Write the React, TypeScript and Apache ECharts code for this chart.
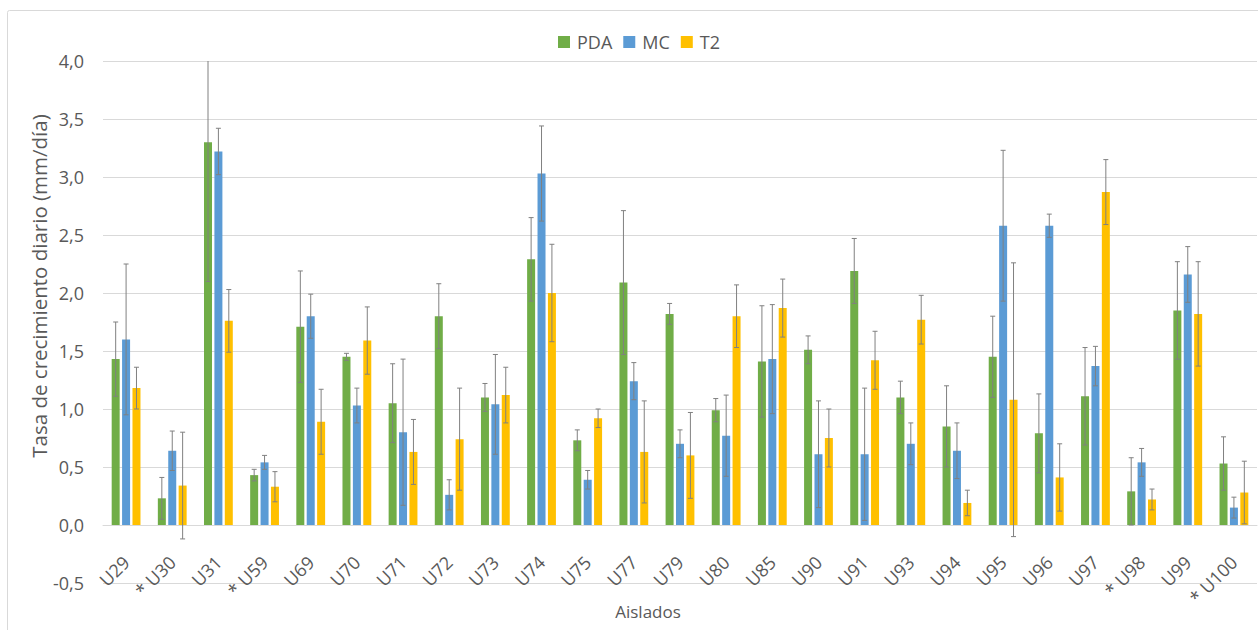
import React, { useEffect, useRef } from "react";
import * as echarts from "echarts";

const categories = ["U29", "* U30", "U31", "* U59", "U69", "U70", "U71", "U72", "U73", "U74", "U75", "U77", "U79", "U80", "U85", "U90", "U91", "U93", "U94", "U95", "U96", "U97", "* U98", "U99", "* U100"];
const seriesNames = ["PDA", "MC", "T2"];
const pda = [1.43, 0.23, 3.30, 0.43, 1.71, 1.45, 1.05, 1.80, 1.10, 2.29, 0.73, 2.09, 1.82, 0.99, 1.41, 1.51, 2.19, 1.10, 0.85, 1.45, 0.79, 1.11, 0.29, 1.85, 0.53];
const pdaErr = [0.32, 0.18, 1.20, 0.05, 0.48, 0.03, 0.34, 0.28, 0.12, 0.36, 0.09, 0.62, 0.09, 0.10, 0.48, 0.12, 0.28, 0.14, 0.35, 0.35, 0.34, 0.42, 0.29, 0.42, 0.23];
const mc = [1.60, 0.64, 3.22, 0.54, 1.80, 1.03, 0.80, 0.26, 1.04, 3.03, 0.39, 1.24, 0.70, 0.77, 1.43, 0.61, 0.61, 0.70, 0.64, 2.58, 2.58, 1.37, 0.54, 2.16, 0.15];
const mcErr = [0.65, 0.17, 0.20, 0.06, 0.19, 0.15, 0.63, 0.13, 0.43, 0.41, 0.08, 0.16, 0.12, 0.35, 0.47, 0.46, 0.57, 0.18, 0.24, 0.65, 0.10, 0.17, 0.12, 0.24, 0.09];
const t2 = [1.18, 0.34, 1.76, 0.33, 0.89, 1.59, 0.63, 0.74, 1.12, 2.00, 0.92, 0.63, 0.60, 1.80, 1.87, 0.75, 1.42, 1.77, 0.19, 1.08, 0.41, 2.87, 0.22, 1.82, 0.28];
const t2Err = [0.18, 0.46, 0.27, 0.13, 0.28, 0.29, 0.28, 0.44, 0.24, 0.42, 0.08, 0.44, 0.37, 0.27, 0.25, 0.25, 0.25, 0.21, 0.11, 1.18, 0.29, 0.28, 0.09, 0.45, 0.27];

const Y_MIN = -0.5;
const Y_MAX = 4.0;
const Y_STEP = 0.5;

const colors = ["#70AD47", "#5B9BD5", "#FFC000"];
const FONT = "'Open Sans', 'Noto Sans', sans-serif";
const BAR_W = 8;
const BAR_GAP = 0.3;
const GRID_TOP = 61;
const GRID_BOTTOM = 47;
const GRID_H = 630 - GRID_TOP - GRID_BOTTOM;
// distance (px) from the grid's bottom edge up to the value 0
const ZERO_OFFSET = (GRID_H * (0 - Y_MIN)) / (Y_MAX - Y_MIN);

function errorSeries(values: number[], errs: number[], offsetIndex: number) {
  const offset = offsetIndex * BAR_W * (1 + BAR_GAP);
  return {
    type: "custom",
    name: seriesNames[offsetIndex + 1] + " err",
    z: 5,
    silent: true,
    data: values.map((v, i) => [i, v, errs[i]]),
    encode: { x: 0, y: 1 },
    renderItem: (params: any, api: any) => {
      const idx = api.value(0);
      const v = api.value(1);
      const e = api.value(2);
      const hiV = Math.min(v + e, Y_MAX);
      const loV = Math.max(v - e, Y_MIN);
      const hi = api.coord([idx, hiV]);
      const lo = api.coord([idx, loV]);
      const x = hi[0] + offset;
      const cap = 2.5;
      const style = { stroke: "#808080", lineWidth: 1 };
      const children: any[] = [
        { type: "line", shape: { x1: x, y1: hi[1], x2: x, y2: lo[1] }, style },
        { type: "line", shape: { x1: x - cap, y1: lo[1], x2: x + cap, y2: lo[1] }, style },
      ];
      if (v + e <= Y_MAX) {
        children.push({ type: "line", shape: { x1: x - cap, y1: hi[1], x2: x + cap, y2: hi[1] }, style });
      }
      return { type: "group", children };
    },
  };
}

export default function App() {
  const ref = useRef<HTMLDivElement>(null);
  useEffect(() => {
    if (!ref.current) return;
    const chart = echarts.init(ref.current, undefined, { renderer: "svg" });
    const barSeries = [pda, mc, t2].map((d, k) => ({
      type: "bar",
      name: seriesNames[k],
      data: d,
      barWidth: BAR_W,
      barGap: BAR_GAP * 100 + "%",
      itemStyle: { color: colors[k] },
      z: 2,
    }));
    chart.setOption({
      animation: false,
      backgroundColor: "#ffffff",
      textStyle: { fontFamily: FONT },
      legend: {
        data: seriesNames,
        top: 28,
        left: 553,
        icon: "rect",
        itemWidth: 12,
        itemHeight: 12,
        itemGap: 11,
        textStyle: { fontFamily: FONT, fontSize: 18, color: "#595959", padding: [0, 0, 0, 2] },
      },
      grid: { left: 103, right: 1, top: GRID_TOP, bottom: GRID_BOTTOM, containLabel: false, outerBoundsMode: "none" },
      xAxis: {
        type: "category",
        data: categories,
        position: "bottom",
        offset: -ZERO_OFFSET,
        axisTick: { show: false },
        axisLine: { show: true, onZero: false, lineStyle: { color: "#d9d9d9" } },
        axisLabel: { rotate: 45, fontFamily: FONT, fontSize: 18, color: "#595959", margin: 34, interval: 0, hideOverlap: false },
      },
      yAxis: {
        type: "value",
        min: Y_MIN,
        max: Y_MAX,
        interval: Y_STEP,
        axisLine: { show: false },
        axisTick: { show: false },
        splitLine: { lineStyle: { color: "#d9d9d9" } },
        axisLabel: {
          fontFamily: FONT,
          fontSize: 18,
          color: "#595959",
          margin: 19,
          formatter: (v: number) => v.toFixed(1).replace(".", ","),
        },
      },
      graphic: [
        {
          type: "rect",
          shape: { x: 7.5, y: 10.5, width: 1300, height: 700, r: 2 },
          style: { fill: "none", stroke: "#d9d9d9", lineWidth: 1 },
          z: -10,
        },
        {
          type: "text",
          x: 39,
          y: 286,
          rotation: Math.PI / 2,
          style: {
            text: "Tasa de crecimiento diario (mm/día)",
            fontFamily: FONT,
            fontSize: 20.5,
            fill: "#595959",
            align: "center",
            verticalAlign: "middle",
          },
        },
        {
          type: "text",
          x: 648,
          y: 611,
          style: {
            text: "Aislados",
            fontFamily: FONT,
            fontSize: 17,
            fill: "#595959",
            align: "center",
            verticalAlign: "middle",
          },
        },
      ],
      series: [
        ...barSeries,
        errorSeries(pda, pdaErr, -1),
        errorSeries(mc, mcErr, 0),
        errorSeries(t2, t2Err, 1),
      ],
    });
    return () => chart.dispose();
  }, []);
  return (
    <div
      ref={ref}
      style={{ position: "fixed", left: 0, top: 0, width: 1258, height: 630 }}
    />
  );
}
